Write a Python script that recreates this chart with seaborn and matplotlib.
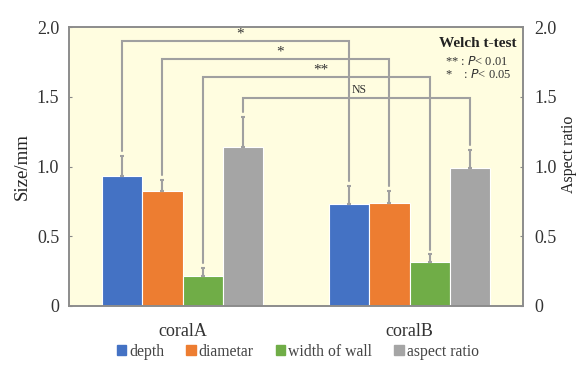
import matplotlib
matplotlib.use("Agg")
import matplotlib.pyplot as plt
import seaborn as sns
import pandas as pd
import numpy as np

# ---- data ----
categories = ["coralA", "coralB"]
series = ["depth", "diametar", "width of wall", "aspect ratio"]
depth = [0.935, 0.73]
diametar = [0.827, 0.736]
width_of_wall = [0.215, 0.313]
aspect_ratio = [1.138, 0.99]
depth_err = [0.14, 0.13]
diametar_err = [0.076, 0.09]
width_err = [0.06, 0.057]
aspect_err = [0.22, 0.13]
bracket_heights = [1.90, 1.77, 1.64, 1.49]
bracket_labels = ["*", "*", "**", "NS"]
yticks = [0, 0.5, 1.0, 1.5, 2.0]
ytick_labels = ["0", "0.5", "1.0", "1.5", "2.0"]

colors = ["#4472C4", "#ED7D31", "#70AD47", "#A5A5A5"]

means = [depth, diametar, width_of_wall, aspect_ratio]
errs = [depth_err, diametar_err, width_err, aspect_err]
rows = []
for s, m in zip(series, means):
    for c, v in zip(categories, m):
        rows.append({"category": c, "series": s, "value": v})
df = pd.DataFrame(rows)

sns.set_style("white")
plt.rcParams["font.family"] = ["Liberation Serif", "DejaVu Serif"]

fig = plt.figure(figsize=(5.78, 3.67), dpi=100)
ax = fig.add_axes([69/578, 1-306/367, 454/578, 279/367])
ax.set_facecolor("#FFFDE0")

sns.barplot(data=df, x="category", y="value", hue="series", order=categories,
            hue_order=series, palette=colors, width=0.713, ax=ax,
            edgecolor="white", linewidth=0.8, errorbar=None, saturation=1)

# bar centers from patches (hue-major order)
bars = [p for p in ax.patches if p.get_height() > 0]
centers = {}
k = 0
for si, s in enumerate(series):
    for ci, c in enumerate(categories):
        p = bars[k]
        centers[(si, ci)] = p.get_x() + p.get_width() / 2
        k += 1

errcol = "#A0A0A0"
for si in range(4):
    xs = [centers[(si, ci)] for ci in range(2)]
    ax.errorbar(xs, means[si], yerr=[[0, 0], errs[si]], fmt="none",
                ecolor=errcol, elinewidth=1.5, capsize=1.3, capthick=1.5, zorder=3)

# significance brackets
for si in range(4):
    x1, x2 = centers[(si, 0)], centers[(si, 1)]
    h = bracket_heights[si]
    y1 = means[si][0] + errs[si][0] + 0.035
    y2 = means[si][1] + errs[si][1] + 0.035
    ax.plot([x1, x1, x2, x2], [y1, h, h, y2], color=errcol, lw=1.5, zorder=3,
            solid_joinstyle="miter")
    lab = bracket_labels[si]
    if lab == "NS":
        ax.text((x1 + x2) / 2 + 0.01, h + 0.012, lab, ha="center", va="bottom",
                fontsize=8.5, color="#333333")
    else:
        ax.text((x1 + x2) / 2 + 0.02, h + 0.002, lab, ha="center", va="bottom",
                fontsize=11, color="#333333")

ax.set_ylim(0, 2.0)
ax.set_xlim(-0.5, 1.5)
ax.set_yticks(yticks)
ax.set_yticklabels(ytick_labels, fontsize=13, color="#333333")
ax.set_xticks([0, 1])
ax.set_xticklabels(categories, fontsize=13, color="#333333")
ax.set_xlabel("")
ax.set_ylabel("Size/mm", fontsize=13.5, color="#222222")
ax.yaxis.label.set_va("center")
ax.yaxis.label.set_ha("center")
ax.yaxis.set_label_coords(-0.1035, 0.5)
ax.tick_params(axis="x", length=0, pad=12)
ax.tick_params(axis="y", length=2, direction="in", pad=7, color="#888888")
for sp in ax.spines.values():
    sp.set_color("#8C8C8C")
    sp.set_linewidth(1.2)
    sp.set_visible(True)

ax2 = ax.twinx()
ax2.set_ylim(0, 2.0)
ax2.set_yticks(yticks)
ax2.set_yticklabels(ytick_labels, fontsize=13, color="#333333")
ax2.set_ylabel("Aspect ratio", fontsize=11.5, color="#222222")
ax2.yaxis.label.set_va("center")
ax2.yaxis.label.set_ha("center")
ax2.yaxis.set_label_coords(1.102, 0.545)
ax2.tick_params(axis="y", length=2, direction="in", pad=8, color="#888888")
for sp in ax2.spines.values():
    sp.set_color("#8C8C8C")
    sp.set_linewidth(1.2)

# Welch annotation
ax.text(0.985, 1.885, "Welch t-test", transform=ax.get_yaxis_transform(),
        ha="right", va="center", fontsize=11, fontweight="bold", color="#222222")
ax.text(0.968, 1.756, "** : $\\it{P}$< 0.01", transform=ax.get_yaxis_transform(),
        ha="right", va="center", fontsize=9, color="#333333")
ax.text(0.975, 1.656, "*    : $\\it{P}$< 0.05", transform=ax.get_yaxis_transform(),
        ha="right", va="center", fontsize=9, color="#333333")

# legend
leg = ax.get_legend()
if leg is not None:
    leg.remove()
handles = [plt.Rectangle((0, 0), 1, 1, color=c) for c in colors]
fig.legend(handles, series, loc="center", bbox_to_anchor=(0.515, 0.041), ncol=4,
           frameon=False, fontsize=11.3, handlelength=0.6, handleheight=0.6,
           handletextpad=0.2, columnspacing=1.4, labelcolor="#444444")

fig.savefig("out.png", dpi=100)
